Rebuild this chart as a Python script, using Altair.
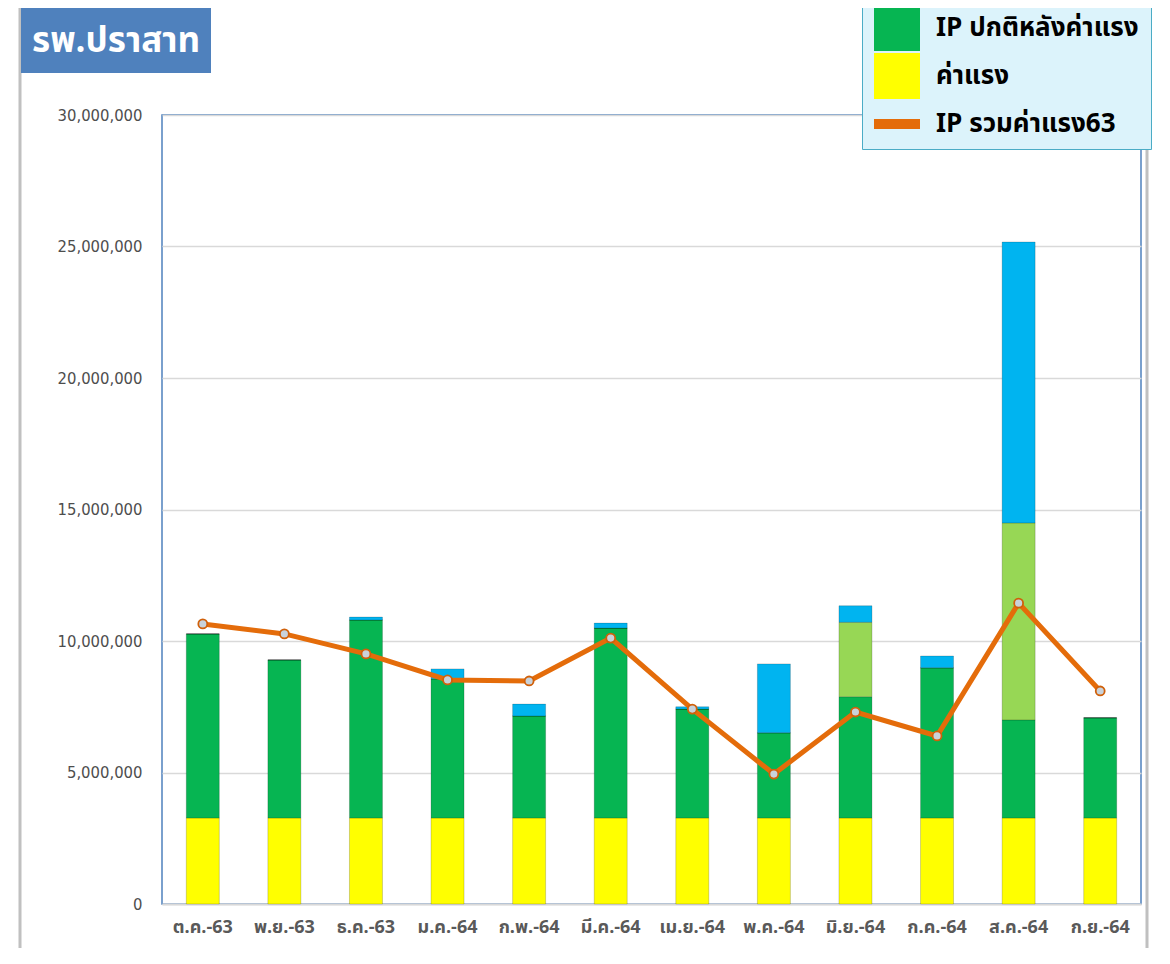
import altair as alt
import pandas as pd

months = ["ต.ค.-63", "พ.ย.-63", "ธ.ค.-63", "ม.ค.-64", "ก.พ.-64", "มี.ค.-64",
          "เม.ย.-64", "พ.ค.-64", "มิ.ย.-64", "ก.ค.-64", "ส.ค.-64", "ก.ย.-64"]
wage = [3270000, 3270000, 3270000, 3270000, 3270000, 3270000,
        3270000, 3270000, 3270000, 3270000, 3270000, 3270000]
ip_normal = [7000000, 6010000, 7530000, 5290000, 3880000, 7220000,
             4140000, 3240000, 4610000, 5710000, 3730000, 3810000]
ip_extra = [0, 0, 0, 0, 0, 0, 0, 0, 2830000, 0, 7490000, 0]
ip_other = [0, 0, 110000, 380000, 450000, 190000,
            90000, 2620000, 630000, 450000, 10680000, 0]
ip_total63 = [10650000, 10270000, 9510000, 8520000, 8480000, 10110000,
              7410000, 4940000, 7300000, 6390000, 11440000, 8100000]

S_WAGE = "ค่าแรง"
S_NORMAL = "IP ปกติหลังค่าแรง"
S_EXTRA = "IP เพิ่มเติม"
S_OTHER = "IP อื่นๆ"
S_LINE = "IP รวมค่าแรง63"

series_domain = [S_OTHER, S_EXTRA, S_NORMAL, S_WAGE, S_LINE]
series_colors = ["#00b4f0", "#97d755", "#06b552", "#ffff00", "#e46c0a"]

rows = []
for i, m in enumerate(months):
    for rank, (name, vals) in enumerate([(S_WAGE, wage), (S_NORMAL, ip_normal),
                                         (S_EXTRA, ip_extra), (S_OTHER, ip_other)]):
        rows.append({"month": m, "series": name, "value": vals[i], "rank": rank})
bars_df = pd.DataFrame(rows)
line_df = pd.DataFrame({"month": months, "value": ip_total63, "series": S_LINE})

AX_FONT = "DejaVu Sans Condensed, sans-serif"
TH_FONT = "Noto Sans Thai, Tahoma, Loma, Garuda, sans-serif"

x_enc = alt.X("month:N", sort=months, title=None,
              axis=alt.Axis(labelAngle=0, ticks=False, domainColor="#d9d9d9",
                            domainWidth=2, labelPadding=14, labelFont=TH_FONT,
                            labelFontSize=18, labelFontWeight="bold",
                            labelColor="#595959", grid=False))
y_scale = alt.Scale(domain=[0, 30000000], nice=False)
y_axis = alt.Axis(values=[0, 5000000, 10000000, 15000000, 20000000, 25000000, 30000000],
                  format=",d", title=None, ticks=False, domain=False, labelPadding=20,
                  labelFont=AX_FONT, labelFontSize=16.5, labelFontWeight=500,
                  labelColor="#4d4d4d", gridColor="#d9d9d9", gridWidth=1.5)

color = alt.Color(
    "series:N",
    scale=alt.Scale(domain=series_domain, range=series_colors),
    legend=alt.Legend(
        title=None, orient="none", legendX=700, legendY=-122,
        values=[S_NORMAL, S_WAGE, S_LINE],
        symbolType=alt.ExprRef(expr="datum.label === '" + S_LINE + "' ? 'M-1,-0.22H1V0.22H-1Z' : 'square'"),
        symbolSize=2116, symbolStrokeWidth=0,
        labelFont=TH_FONT, labelFontSize=26, labelFontWeight="bold", labelColor="#000000",
        labelOffset=16, labelLimit=400, rowPadding=2, padding=12,
        fillColor="#dcf3fb", strokeColor="#4bacc6",
    ),
)

one = alt.Data(values=[{"k": 1}])

frame = alt.Chart(one).mark_rect(fill=None, stroke="#c0c0c0", strokeWidth=3).encode(
    x=alt.value(-142), x2=alt.value(985), y=alt.value(-112), y2=alt.value(850))

bars = alt.Chart(bars_df).mark_bar(size=33, stroke="#000000", strokeOpacity=0.18,
                                   strokeWidth=1).encode(
    x=x_enc,
    y=alt.Y("value:Q", stack="zero", scale=y_scale, axis=y_axis),
    color=color,
    order=alt.Order("rank:Q", sort="ascending"),
)

line = alt.Chart(line_df).mark_line(strokeWidth=5).encode(
    x=alt.X("month:N", sort=months),
    y=alt.Y("value:Q"),
    color=alt.Color("series:N"),
)

points = alt.Chart(line_df).mark_point(filled=True, size=80, fill="#c9d2da",
                                       stroke="#d0600a", strokeWidth=1.8, opacity=1).encode(
    x=alt.X("month:N", sort=months),
    y=alt.Y("value:Q"),
)

title_box = alt.Chart(one).mark_rect(fill="#4f81bd").encode(
    x=alt.value(-141), x2=alt.value(49), y=alt.value(-111), y2=alt.value(-42))
title_text = alt.Chart(one).mark_text(text="รพ.ปราสาท", font=TH_FONT, fontSize=35,
                                      fontWeight="bold", color="white",
                                      align="center", baseline="middle").encode(
    x=alt.value(-46), y=alt.value(-74))

chart = alt.layer(frame, bars, line, points, title_box, title_text).properties(
    width=979, height=789,
    autosize=alt.AutoSizeParams(type="none"),
    padding={"left": 154, "top": 107, "right": 20, "bottom": 44},
    background="white",
).configure_view(stroke="#4f81bd", strokeWidth=1.5)

chart.save("out.html", embed_options={"renderer": "svg", "actions": False})
